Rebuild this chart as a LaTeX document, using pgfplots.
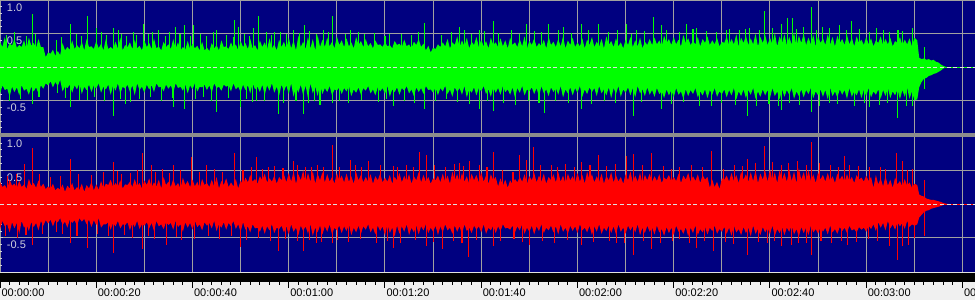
\documentclass[border=0pt]{standalone}
\usepackage{fontspec}
\setmainfont{Liberation Sans}
\usepackage{pgfplots}
\usepackage{pgfplotstable}
\pgfplotsset{compat=1.18}
\definecolor{navy}{HTML}{000080}
\definecolor{wgreen}{HTML}{00FF00}
\definecolor{wred}{HTML}{FF0000}
\definecolor{gridg}{HTML}{A0A0A0}
\definecolor{sepg}{HTML}{8C8C8C}
\definecolor{rulerbg}{HTML}{F0F0F0}
\definecolor{lab}{HTML}{D0D0DC}
\definecolor{zerol}{HTML}{E0E0E0}
\newcommand\lf{\fontsize{8.25pt}{9pt}\selectfont}

\pgfplotstableread{
t gu gl ru rl
0 0.38 -0.40 0.33 -0.38
0.5 .30 -.27 .25 -.25
1 0.45 -0.34 0.28 -0.33
1.5 .27 -.32 .22 -.30
2 0.36 -0.44 0.36 -0.42
2.5 .32 -.29 .27 -.27
3 0.42 -0.37 0.30 -0.36
3.5 .29 -.30 .24 -.28
4 0.33 -0.42 0.34 -0.44
4.5 .30 -.27 .25 -.25
5 0.40 -0.35 0.29 -0.35
5.5 .27 -.32 .22 -.30
6 0.44 -0.41 0.37 -0.40
6.5 .32 -.29 .27 -.27
7 0.36 -0.36 0.31 -0.34
7.5 .29 -.30 .24 -.28
8 0.42 -0.39 0.35 -0.39
8.5 .30 -.27 .25 -.25
9 0.30 -0.32 0.30 -0.32
9.5 .15 -.24 .22 -.24
10 0.22 -0.27 0.26 -0.29
10.5 .20 -.21 .23 -.23
11 0.26 -0.30 0.30 -0.33
11.5 .17 -.22 .20 -.24
12 0.24 -0.28 0.24 -0.27
12.5 .18 -.19 .21 -.21
13 0.36 -0.36 0.29 -0.31
13.5 .25 -.29 .18 -.26
14 0.30 -0.31 0.27 -0.35
14.5 .26 -.26 .23 -.23
15 0.40 -0.38 0.31 -0.28
15.5 .27 -.27 .20 -.24
16 0.33 -0.33 0.25 -0.32
16.5 .28 -.24 .21 -.21
17 0.38 -0.40 0.30 -0.26
17.5 .25 -.29 .18 -.22
18 0.42 -0.34 0.28 -0.30
18.5 .30 -.26 .23 -.23
19 0.31 -0.37 0.33 -0.34
19.5 .27 -.27 .20 -.24
20 0.39 -0.32 0.29 -0.31
20.5 .28 -.24 .21 -.21
21 0.35 -0.38 0.34 -0.35
21.5 .25 -.29 .23 -.30
22 0.42 -0.33 0.30 -0.30
22.5 .27 -.26 .28 -.27
23 0.30 -0.41 0.36 -0.38
23.5 .27 -.27 .25 -.28
24 0.38 -0.35 0.31 -0.33
24.5 .28 -.24 .26 -.25
25 0.44 -0.39 0.35 -0.36
25.5 .25 -.29 .23 -.30
26 0.33 -0.32 0.29 -0.31
26.5 .30 -.26 .28 -.27
27 0.37 -0.37 0.33 -0.39
27.5 .27 -.27 .25 -.28
28 0.41 -0.42 0.37 -0.34
28.5 .28 -.24 .26 -.25
29 0.32 -0.34 0.31 -0.37
29.5 .25 -.29 .23 -.30
30 0.40 -0.38 0.35 -0.32
30.5 .30 -.26 .28 -.27
31 0.36 -0.33 0.38 -0.36
31.5 .27 -.27 .25 -.28
32 0.43 -0.37 0.32 -0.40
32.5 .28 -.24 .26 -.25
33 0.31 -0.30 0.36 -0.33
33.5 .25 -.29 .23 -.30
34 0.38 -0.36 0.40 -0.37
34.5 .30 -.26 .28 -.27
35 0.34 -0.32 0.33 -0.31
35.5 .27 -.27 .25 -.28
36 0.42 -0.38 0.37 -0.38
36.5 .28 -.24 .26 -.25
37 0.37 -0.31 0.31 -0.34
37.5 .25 -.29 .23 -.30
38 0.30 -0.35 0.39 -0.41
38.5 .26 -.26 .28 -.27
39 0.39 -0.39 0.34 -0.35
39.5 .27 -.27 .25 -.28
40 0.35 -0.33 0.36 -0.38
40.5 .28 -.24 .26 -.25
41 0.32 -0.36 0.33 -0.34
41.5 .25 -.29 .23 -.30
42 0.38 -0.30 0.37 -0.39
42.5 .25 -.26 .28 -.27
43 0.29 -0.34 0.31 -0.32
43.5 .24 -.27 .25 -.28
44 0.36 -0.38 0.36 -0.36
44.5 .28 -.24 .26 -.25
45 0.33 -0.31 0.40 -0.40
45.5 .25 -.29 .23 -.30
46 0.40 -0.35 0.34 -0.35
46.5 .30 -.26 .28 -.27
47 0.31 -0.29 0.38 -0.38
47.5 .27 -.27 .25 -.28
48 0.37 -0.36 0.32 -0.33
48.5 .28 -.24 .26 -.25
49 0.34 -0.33 0.37 -0.37
49.5 .25 -.29 .23 -.30
50 0.39 -0.37 0.35 -0.41
50.5 .30 -.26 .28 -.27
51 0.36 -0.34 0.39 -0.38
51.5 .27 -.27 .32 -.33
52 0.42 -0.39 0.43 -0.42
52.5 .28 -.24 .33 -.30
53 0.33 -0.33 0.37 -0.36
53.5 .25 -.29 .30 -.35
54 0.40 -0.37 0.41 -0.41
54.5 .30 -.26 .35 -.32
55 0.37 -0.41 0.45 -0.44
55.5 .27 -.27 .32 -.33
56 0.43 -0.35 0.38 -0.39
56.5 .28 -.24 .33 -.30
57 0.34 -0.38 0.42 -0.43
57.5 .25 -.29 .30 -.35
58 0.41 -0.42 0.40 -0.37
58.5 .30 -.26 .35 -.32
59 0.38 -0.36 0.44 -0.42
59.5 .27 -.27 .32 -.33
60 0.44 -0.40 0.46 -0.45
60.5 .28 -.24 .33 -.30
61 0.40 -0.44 0.48 -0.41
61.5 .25 -.29 .30 -.35
62 0.47 -0.38 0.44 -0.46
62.5 .30 -.26 .35 -.32
63 0.38 -0.42 0.50 -0.40
63.5 .27 -.27 .32 -.33
64 0.45 -0.46 0.46 -0.44
64.5 .28 -.24 .33 -.30
65 0.42 -0.39 0.49 -0.47
65.5 .25 -.29 .30 -.35
66 0.48 -0.43 0.45 -0.42
66.5 .30 -.26 .35 -.32
67 0.41 -0.40 0.47 -0.45
67.5 .30 -.31 .32 -.33
68 0.44 -0.37 0.44 -0.41
68.5 .31 -.28 .33 -.30
69 0.38 -0.42 0.40 -0.45
69.5 .28 -.33 .30 -.35
70 0.46 -0.35 0.46 -0.39
70.5 .33 -.30 .35 -.32
71 0.40 -0.40 0.42 -0.43
71.5 .30 -.31 .32 -.33
72 0.43 -0.36 0.45 -0.40
72.5 .31 -.28 .33 -.30
73 0.37 -0.43 0.41 -0.46
73.5 .28 -.33 .30 -.35
74 0.45 -0.38 0.47 -0.42
74.5 .33 -.30 .35 -.32
75 0.39 -0.41 0.43 -0.44
75.5 .30 -.31 .32 -.33
76 0.42 -0.35 0.40 -0.38
76.5 .31 -.28 .33 -.30
77 0.36 -0.39 0.44 -0.42
77.5 .28 -.33 .30 -.35
78 0.40 -0.42 0.41 -0.45
78.5 .33 -.30 .35 -.32
79 0.34 -0.36 0.45 -0.40
79.5 .30 -.31 .32 -.33
80 0.38 -0.40 0.39 -0.47
80.5 .31 -.28 .33 -.30
81 0.33 -0.44 0.43 -0.43
81.5 .28 -.33 .30 -.35
82 0.39 -0.37 0.40 -0.48
82.5 .33 -.30 .35 -.32
83 0.35 -0.41 0.46 -0.44
83.5 .30 -.31 .32 -.33
84 0.41 -0.35 0.42 -0.41
84.5 .31 -.28 .33 -.30
85 0.34 -0.39 0.44 -0.46
85.5 .28 -.33 .30 -.35
86 0.38 -0.43 0.41 -0.42
86.5 .33 -.30 .35 -.32
87 0.42 -0.37 0.47 -0.45
87.5 .30 -.31 .32 -.33
88 0.35 -0.40 0.43 -0.39
88.5 .25 -.28 .33 -.30
89 0.32 -0.34 0.40 -0.43
89.5 .22 -.33 .30 -.35
90 0.29 -0.38 0.38 -0.41
90.5 .27 -.30 .35 -.32
91 0.34 -0.42 0.42 -0.46
91.5 .30 -.31 .32 -.33
92 0.37 -0.36 0.45 -0.42
92.5 .31 -.28 .33 -.30
93 0.42 -0.40 0.42 -0.39
93.5 .28 -.33 .30 -.35
94 0.37 -0.44 0.48 -0.44
94.5 .33 -.30 .35 -.32
95 0.46 -0.37 0.44 -0.41
95.5 .30 -.31 .32 -.33
96 0.40 -0.41 0.46 -0.45
96.5 .31 -.28 .33 -.30
97 0.44 -0.45 0.41 -0.40
97.5 .28 -.33 .30 -.35
98 0.38 -0.38 0.45 -0.43
98.5 .33 -.30 .35 -.32
99 0.45 -0.42 0.43 -0.38
99.5 .30 -.31 .32 -.33
100 0.41 -0.36 0.47 -0.42
100.5 .31 -.28 .33 -.30
101 0.39 -0.40 0.42 -0.44
101.5 .28 -.33 .30 -.35
102 0.44 -0.44 0.44 -0.39
102.5 .33 -.30 .35 -.32
103 0.37 -0.38 0.40 -0.43
103.5 .30 -.31 .26 -.33
104 0.43 -0.41 0.38 -0.40
104.5 .31 -.28 .27 -.30
105 0.40 -0.37 0.36 -0.36
105.5 .28 -.33 .24 -.35
106 0.44 -0.41 0.35 -0.38
106.5 .33 -.30 .29 -.32
107 0.37 -0.45 0.37 -0.42
107.5 .30 -.31 .32 -.33
108 0.42 -0.38 0.40 -0.39
108.5 .31 -.28 .33 -.30
109 0.46 -0.42 0.44 -0.44
109.5 .28 -.33 .30 -.35
110 0.39 -0.36 0.41 -0.41
110.5 .33 -.30 .35 -.32
111 0.43 -0.40 0.46 -0.45
111.5 .30 -.31 .32 -.33
112 0.36 -0.44 0.42 -0.40
112.5 .31 -.28 .33 -.30
113 0.41 -0.39 0.45 -0.43
113.5 .28 -.33 .30 -.35
114 0.45 -0.43 0.40 -0.39
114.5 .33 -.30 .35 -.32
115 0.38 -0.37 0.44 -0.42
115.5 .30 -.31 .32 -.33
116 0.42 -0.41 0.47 -0.45
116.5 .31 -.28 .33 -.30
117 0.46 -0.45 0.42 -0.41
117.5 .28 -.33 .30 -.35
118 0.40 -0.39 0.45 -0.44
118.5 .33 -.30 .35 -.32
119 0.44 -0.42 0.41 -0.40
119.5 .30 -.31 .32 -.33
120 0.37 -0.38 0.46 -0.43
120.5 .31 -.28 .33 -.30
121 0.43 -0.44 0.43 -0.39
121.5 .28 -.33 .30 -.35
122 0.41 -0.40 0.48 -0.42
122.5 .33 -.30 .35 -.32
123 0.45 -0.37 0.44 -0.46
123.5 .30 -.31 .32 -.33
124 0.38 -0.43 0.41 -0.41
124.5 .31 -.28 .33 -.30
125 0.42 -0.39 0.45 -0.44
125.5 .28 -.33 .30 -.35
126 0.46 -0.42 0.42 -0.40
126.5 .33 -.30 .35 -.32
127 0.39 -0.46 0.47 -0.43
127.5 .30 -.31 .32 -.33
128 0.43 -0.40 0.43 -0.45
128.5 .31 -.28 .33 -.30
129 0.37 -0.44 0.40 -0.41
129.5 .28 -.33 .30 -.35
130 0.41 -0.38 0.44 -0.44
130.5 .33 -.30 .35 -.32
131 0.45 -0.42 0.48 -0.39
131.5 .30 -.31 .32 -.33
132 0.40 -0.45 0.42 -0.42
132.5 .31 -.28 .33 -.30
133 0.44 -0.39 0.46 -0.46
133.5 .28 -.33 .30 -.35
134 0.38 -0.43 0.43 -0.43
134.5 .33 -.30 .35 -.32
135 0.42 -0.41 0.45 -0.41
135.5 .33 -.34 .33 -.35
136 0.44 -0.44 0.41 -0.45
136.5 .34 -.31 .34 -.32
137 0.40 -0.40 0.44 -0.42
137.5 .31 -.36 .31 -.37
138 0.47 -0.46 0.39 -0.47
138.5 .36 -.33 .36 -.34
139 0.42 -0.42 0.43 -0.43
139.5 .33 -.34 .33 -.35
140 0.45 -0.45 0.40 -0.46
140.5 .34 -.31 .34 -.32
141 0.41 -0.41 0.45 -0.41
141.5 .31 -.36 .31 -.37
142 0.48 -0.47 0.42 -0.44
142.5 .36 -.33 .36 -.34
143 0.43 -0.43 0.46 -0.48
143.5 .33 -.34 .33 -.35
144 0.39 -0.40 0.41 -0.43
144.5 .34 -.31 .34 -.32
145 0.45 -0.45 0.44 -0.46
145.5 .31 -.36 .31 -.37
146 0.42 -0.42 0.43 -0.42
146.5 .36 -.33 .36 -.34
147 0.46 -0.46 0.40 -0.45
147.5 .33 -.34 .24 -.35
148 0.40 -0.41 0.36 -0.40
148.5 .34 -.31 .25 -.32
149 0.44 -0.44 0.33 -0.44
149.5 .31 -.36 .22 -.37
150 0.38 -0.40 0.38 -0.41
150.5 .36 -.33 .36 -.34
151 0.46 -0.45 0.42 -0.44
151.5 .33 -.34 .33 -.35
152 0.42 -0.42 0.46 -0.47
152.5 .34 -.31 .34 -.32
153 0.49 -0.48 0.43 -0.42
153.5 .31 -.36 .31 -.37
154 0.44 -0.43 0.48 -0.46
154.5 .36 -.33 .36 -.34
155 0.47 -0.46 0.44 -0.43
155.5 .33 -.34 .33 -.35
156 0.43 -0.41 0.47 -0.48
156.5 .34 -.31 .34 -.32
157 0.50 -0.47 0.50 -0.44
157.5 .31 -.36 .31 -.37
158 0.45 -0.44 0.45 -0.46
158.5 .36 -.33 .36 -.34
159 0.48 -0.42 0.49 -0.42
159.5 .33 -.34 .33 -.35
160 0.44 -0.46 0.52 -0.45
160.5 .34 -.31 .34 -.32
161 0.51 -0.43 0.47 -0.47
161.5 .31 -.36 .31 -.37
162 0.46 -0.48 0.50 -0.43
162.5 .36 -.33 .36 -.34
163 0.49 -0.44 0.46 -0.46
163.5 .33 -.34 .33 -.35
164 0.45 -0.41 0.51 -0.41
164.5 .34 -.31 .34 -.32
165 0.52 -0.47 0.48 -0.45
165.5 .31 -.36 .31 -.37
166 0.47 -0.43 0.53 -0.48
166.5 .36 -.33 .36 -.34
167 0.50 -0.45 0.47 -0.43
167.5 .33 -.34 .33 -.35
168 0.44 -0.40 0.50 -0.46
168.5 .34 -.31 .34 -.32
169 0.48 -0.46 0.44 -0.42
169.5 .31 -.36 .31 -.37
170 0.46 -0.42 0.47 -0.44
170.5 .36 -.33 .36 -.34
171 0.43 -0.44 0.43 -0.41
171.5 .33 -.34 .33 -.35
172 0.49 -0.48 0.46 -0.45
172.5 .34 -.31 .34 -.32
173 0.45 -0.43 0.41 -0.42
173.5 .31 -.36 .31 -.37
174 0.47 -0.45 0.45 -0.44
174.5 .36 -.33 .36 -.34
175 0.42 -0.41 0.42 -0.40
175.5 .33 -.34 .33 -.35
176 0.48 -0.47 0.44 -0.43
176.5 .34 -.31 .34 -.32
177 0.44 -0.44 0.40 -0.39
177.5 .31 -.36 .31 -.37
178 0.46 -0.42 0.43 -0.42
178.5 .36 -.33 .36 -.34
179 0.41 -0.46 0.39 -0.38
179.5 .33 -.34 .33 -.35
180 0.45 -0.43 0.42 -0.41
180.5 .34 -.31 .34 -.32
181 0.43 -0.45 0.40 -0.37
181.5 .31 -.36 .24 -.30
182 0.40 -0.41 0.43 -0.40
182.5 .36 -.33 .29 -.27
183 0.46 -0.47 0.38 -0.35
183.5 .33 -.34 .26 -.28
184 0.42 -0.43 0.41 -0.39
184.5 .34 -.31 .27 -.25
185 0.44 -0.46 0.36 -0.36
185.5 .31 -.36 .24 -.30
186 0.39 -0.42 0.39 -0.38
186.5 .36 -.33 .29 -.27
187 0.45 -0.48 0.34 -0.33
187.5 .33 -.34 .26 -.28
188 0.41 -0.44 0.37 -0.37
188.5 .34 -.31 .27 -.25
189 0.43 -0.47 0.32 -0.34
189.5 .31 -.36 .24 -.30
190 0.44 -0.49 0.30 -0.32
190.6 0.40 -0.48 0.28 -0.30
191 0.14 -0.30 0.14 -0.20
191.5 0.12 -0.22 0.12 -0.16
192 0.13 -0.17 0.11 -0.12
192.5 0.11 -0.16 0.08 -0.10
193 0.12 -0.13 0.07 -0.09
193.5 0.10 -0.12 0.06 -0.07
194 0.11 -0.10 0.06 -0.06
194.5 0.08 -0.09 0.05 -0.05
195 0.07 -0.07 0.04 -0.04
195.5 0.04 -0.05 0.03 -0.03
196 0.02 -0.02 0.015 -0.015
196.5 0.005 -0.005 0.005 -0.005
197 0 0 0 0
}\wave

\pgfplotsset{
  panel/.style={
    scale only axis, width=731.25pt,
    xmin=0, xmax=202.6, ymin=-1, ymax=1,
    axis background/.style={fill=navy},
    axis line style={draw=none},
    xtick={0,10,...,200}, xticklabel=\empty, xmajorgrids,
    x tick style={draw=none},
    ytick={-0.5,0.5}, yticklabels={-0.5,0.5}, ymajorgrids,
    extra y ticks={0,1}, extra y tick labels={0.0,1.0},
    extra y tick style={grid=none},
    minor ytick={-0.9,-0.8,-0.7,-0.6,-0.4,-0.3,-0.2,-0.1,0.1,0.2,0.3,0.4,0.6,0.7,0.8,0.9},
    ytick pos=left, tick align=inside,
    major tick length=2pt, minor tick length=1.5pt,
    y tick style={draw=lab, line width=0.6pt},
    grid style={gridg, line width=0.75pt},
    yticklabel style={font=\lf, text=lab, anchor=north west, inner sep=0pt, xshift=5pt, yshift=-2.4pt},
  },
  spike/.style={ycomb, line width=0.8pt, mark=none},
}

\begin{document}
\begin{tikzpicture}
\useasboundingbox (0,0) rectangle (731.25pt,225pt);
\fill[rulerbg] (0,0) rectangle (731.25pt,225pt);

% ---------- top channel (green) ----------
\begin{axis}[panel, at={(0pt,124.2pt)}, anchor=south west, height=100.8pt]
\addplot[fill=wgreen, draw=none] table[x=t, y=gu] {\wave} \closedcycle;
\addplot[fill=wgreen, draw=none] table[x=t, y=gl] {\wave} \closedcycle;
% medium peaks
\addplot[spike, wgreen] coordinates {
(1.4,0.48)(3.1,0.52)(5.5,0.47)(7.3,0.50)(11.8,0.40)(12.8,0.45)(15.9,0.50)(17.0,0.47)(21.1,0.52)(22.2,0.48)(25.3,0.50)(26.3,0.46)(27.7,0.53)(28.4,0.48)(30.8,0.50)(34.3,0.47)(35.3,0.52)(37.4,0.49)(39.5,0.46)(41.6,0.50)(42.9,0.47)(44.3,0.52)(47.1,0.48)(48.5,0.45)(50.9,0.50)(51.9,0.47)(55.4,0.52)(56.4,0.48)(58.2,0.53)(59.6,0.49)(60.9,0.55)(62.3,0.51)(64.4,0.54)(65.8,0.50)
(68.2,0.52)(71.7,0.50)(74.4,0.53)(75.8,0.49)(77.9,0.51)(80.0,0.47)(83.4,0.50)(85.5,0.48)(86.9,0.52)(91.7,0.48)(93.8,0.53)(96.6,0.55)(98.0,0.50)(100.7,0.54)(103.5,0.51)(106.3,0.55)(108.0,0.50)(111.1,0.54)(112.5,0.52)(116.0,0.55)(118.7,0.51)(122.2,0.56)(126.4,0.52)(128.4,0.55)(131.2,0.50)(134.0,0.54)
(138.5,0.56)(141.2,0.53)(144.0,0.57)(146.8,0.54)(148.9,0.52)(151.6,0.57)(153.7,0.55)(155.8,0.58)(157.9,0.56)(160.6,0.59)(165.5,0.57)(166.9,0.60)(169.6,0.56)(172.4,0.58)(175.9,0.55)(178.6,0.57)(180.7,0.53)(183.5,0.55)(184.9,0.52)(187.6,0.54)};
\addplot[spike, wgreen] coordinates {
(2.0,-0.50)(4.2,-0.47)(8.1,-0.45)(12.0,-0.38)(13.6,-0.46)(16.5,-0.49)(19.6,-0.45)(21.8,-0.50)(25.0,-0.47)(27.1,-0.52)(29.0,-0.48)(31.2,-0.45)(33.6,-0.50)(35.8,-0.46)(40.6,-0.48)(42.3,-0.45)(44.0,-0.50)(47.5,-0.46)(51.2,-0.48)(52.4,-0.52)(55.0,-0.50)(59.0,-0.53)(61.5,-0.51)(64.2,-0.54)(65.4,-0.50)
(70.6,-0.50)(72.5,-0.53)(75.1,-0.49)(78.6,-0.52)(80.4,-0.48)(84.0,-0.51)(86.2,-0.54)(90.5,-0.50)(92.8,-0.47)(95.0,-0.52)(97.6,-0.55)(101.3,-0.50)(104.6,-0.53)(107.2,-0.56)(109.9,-0.51)(112.0,-0.54)(115.4,-0.50)(118.1,-0.53)(123.0,-0.55)(125.6,-0.51)(127.8,-0.54)(133.3,-0.52)
(139.6,-0.55)(142.0,-0.52)(145.4,-0.57)(150.0,-0.54)(152.8,-0.56)(157.2,-0.58)(159.8,-0.55)(161.7,-0.57)(164.0,-0.54)(166.2,-0.56)(170.3,-0.58)(174.0,-0.55)(177.5,-0.57)(179.6,-0.53)(182.8,-0.56)(184.4,-0.54)(188.3,-0.58)};
% tall peaks
\addplot[spike, wgreen] coordinates {
(6.7,0.79)(14.7,0.65)(18.2,0.76)(20.0,0.58)(23.5,0.58)(24.6,0.55)(29.8,0.64)(31.6,0.53)(32.9,0.55)(36.4,0.60)(38.4,0.63)(40.2,0.63)(45.0,0.55)(48.8,0.70)(49.6,0.60)(52.6,0.58)(53.7,0.76)(57.0,0.52)(63.2,0.63)(67.2,0.55)
(69.0,0.76)(72.9,0.56)(81.0,0.50)(88.3,0.66)(95.4,0.60)(99.7,0.55)(102.5,0.69)(109.5,0.65)(113.9,0.65)(117.0,0.60)(120.8,0.64)(124.3,0.64)(130.2,0.64)(132.2,0.55)
(135.7,0.75)(137.4,0.63)(142.6,0.65)(144.7,0.58)(151.0,0.55)(155.0,0.57)(158.9,0.84)(162.4,0.65)(163.7,0.73)(164.6,0.73)(168.7,0.89)(171.0,0.60)(174.5,0.63)(176.9,0.69)(182.1,0.58)(186.6,0.55)(189.7,0.58)(192.2,0.30)};
\addplot[spike, wgreen] coordinates {
(6.7,-0.55)(14.7,-0.59)(18.2,-0.49)(23.5,-0.72)(26.0,-0.55)(36.0,-0.59)(38.4,-0.62)(45.0,-0.67)(49.9,-0.59)(53.3,-0.50)(57.8,-0.69)(63.0,-0.69)(66.5,-0.56)
(69.0,-0.54)(81.7,-0.58)(88.3,-0.62)(99.6,-0.62)(102.5,-0.65)(113.2,-0.68)(120.8,-0.62)(131.6,-0.72)
(137.4,-0.62)(147.8,-0.57)(155.4,-0.72)(162.4,-0.64)(168.7,-0.67)(172.4,-0.54)(180.7,-0.59)(186.4,-0.75)(189.7,-0.57)(192.2,-0.32)};
\addplot[wgreen, line width=0.75pt] coordinates {(196,0)(202.6,0)};
\addplot[zerol, line width=0.75pt, dash pattern=on 3pt off 2pt] coordinates {(0,0)(202.6,0)};
\end{axis}

% ---------- bottom channel (red) ----------
\begin{axis}[panel, at={(0pt,21.225pt)}, anchor=south west, height=101.55pt]
\addplot[fill=wred, draw=none] table[x=t, y=ru] {\wave} \closedcycle;
\addplot[fill=wred, draw=none] table[x=t, y=rl] {\wave} \closedcycle;
% medium peaks
\addplot[spike, wred] coordinates {
(1.6,0.42)(3.4,0.45)(8.2,0.44)(10.5,0.40)(12.6,0.42)(16.3,0.45)(19.0,0.43)(21.5,0.47)(24.4,0.49)(27.2,0.46)(28.6,0.50)(32.4,0.48)(33.8,0.51)(35.2,0.46)(37.5,0.50)(41.4,0.47)(44.5,0.52)(46.2,0.48)(50.5,0.50)(52.2,0.54)(54.6,0.52)(57.0,0.56)(58.8,0.53)(61.8,0.57)(64.7,0.55)(66.0,0.58)
(70.5,0.55)(73.8,0.58)(75.2,0.54)(79.0,0.57)(82.6,0.55)(84.4,0.58)(86.0,0.54)(90.2,0.57)(92.5,0.55)(94.4,0.59)(96.4,0.56)(99.6,0.58)(101.2,0.54)(104.5,0.50)(106.6,0.47)(112.4,0.57)(115.8,0.55)(117.6,0.59)(119.4,0.54)(122.6,0.58)(126.0,0.56)(127.9,0.59)(133.5,0.57)
(137.8,0.56)(139.6,0.52)(143.6,0.58)(146.0,0.55)(150.4,0.52)(152.6,0.58)(154.2,0.56)(156.9,0.60)(160.6,0.62)(163.8,0.60)(165.8,0.63)(170.2,0.60)(172.6,0.57)(174.2,0.55)(178.4,0.56)(180.6,0.54)(182.9,0.55)(184.0,0.52)(188.6,0.50)};
\addplot[spike, wred] coordinates {
(1.2,-0.47)(3.6,-0.50)(5.4,-0.46)(8.8,-0.44)(11.7,-0.42)(13.0,-0.45)(16.0,-0.47)(20.3,-0.44)(22.6,-0.48)(25.8,-0.46)(27.5,-0.50)(30.8,-0.47)(32.2,-0.51)(36.6,-0.49)(40.5,-0.52)(43.3,-0.47)(45.7,-0.51)(48.2,-0.48)(51.3,-0.53)(53.8,-0.50)(56.2,-0.54)(59.4,-0.52)(61.9,-0.55)(64.3,-0.53)(66.8,-0.56)
(70.2,-0.53)(72.4,-0.56)(75.0,-0.52)(78.2,-0.57)(80.6,-0.55)(83.2,-0.58)(86.4,-0.53)(90.0,-0.56)(94.2,-0.54)(96.0,-0.57)(99.0,-0.53)(104.0,-0.55)(106.8,-0.52)(108.6,-0.56)(112.8,-0.54)(115.2,-0.57)(118.0,-0.53)(123.4,-0.56)(126.6,-0.54)(128.2,-0.58)(133.8,-0.55)
(137.2,-0.57)(139.8,-0.54)(143.2,-0.58)(146.4,-0.55)(150.8,-0.56)(152.4,-0.59)(157.6,-0.56)(159.4,-0.58)(161.0,-0.55)(166.0,-0.57)(170.6,-0.55)(172.8,-0.58)(174.8,-0.54)(178.0,-0.56)(180.4,-0.52)(182.4,-0.55)(190.0,-0.50)};
% tall peaks
\addplot[spike, wred] coordinates {
(5.0,0.59)(6.7,0.82)(14.7,0.66)(23.5,0.62)(25.3,0.44)(29.6,0.76)(31.5,0.58)(36.0,0.58)(39.8,0.69)(42.9,0.58)(48.8,0.76)(53.3,0.70)(55.7,0.55)(60.9,0.64)(63.4,0.55)(67.2,0.55)
(69.0,0.87)(72.9,0.65)(76.5,0.63)(81.7,0.56)(87.2,0.77)(88.6,0.73)(95.5,0.61)(97.5,0.63)(102.5,0.77)(107.9,0.73)(109.4,0.65)(110.8,0.84)(114.6,0.58)(120.8,0.62)(124.3,0.73)(130.2,0.71)(131.6,0.74)
(135.3,0.76)(141.2,0.54)(147.8,0.79)(155.4,0.66)(158.9,0.85)(162.4,0.58)(167.5,0.58)(168.7,0.92)(175.5,0.71)(176.5,0.58)(186.2,0.75)(187.6,0.63)(189.7,0.51)(192.2,0.36)};
\addplot[spike, wred] coordinates {
(6.7,-0.60)(14.7,-0.58)(18.2,-0.65)(23.5,-0.73)(29.6,-0.67)(34.6,-0.60)(37.7,-0.53)(49.9,-0.63)(57.8,-0.70)(63.0,-0.70)(65.8,-0.57)
(69.0,-0.57)(81.7,-0.65)(88.6,-0.62)(91.9,-0.67)(97.3,-0.78)(102.5,-0.62)(110.1,-0.60)(120.8,-0.60)(129.8,-0.57)(131.6,-0.76)
(135.3,-0.66)(141.2,-0.52)(144.7,-0.65)(148.2,-0.70)(155.4,-0.76)(162.4,-0.62)(164.4,-0.60)(167.5,-0.57)(168.7,-0.76)(176.2,-0.60)(184.9,-0.62)(186.4,-0.83)(187.6,-0.62)(188.7,-0.60)(192.2,-0.47)};
\addplot[wred, line width=0.75pt] coordinates {(196,0)(202.6,0)};
\addplot[zerol, line width=0.75pt, dash pattern=on 3pt off 2pt] coordinates {(0,0)(202.6,0)};
\end{axis}

% separators
\fill[gridg] (0,224.25pt) rectangle (731.25pt,225pt);
\fill[sepg] (0,121.875pt) rectangle (731.25pt,124.875pt);
\fill[zerol] (0,20pt) rectangle (731.25pt,21.225pt);

% ---------- time ruler ----------
\begin{axis}[at={(0pt,13.725pt)}, anchor=south west, scale only axis,
  width=731.25pt, height=6.275pt,
  xmin=0, xmax=202.6, ymin=0, ymax=1,
  axis background/.style={fill=black},
  axis line style={draw=none},
  ytick=\empty,
  xtick={0,20,...,200}, minor x tick num=9,
  xtick pos=bottom, tick align=outside,
  major tick length=4.5pt, minor tick length=2.25pt,
  tick style={black, line width=0.75pt},
  xticklabels={00:00:00,00:00:20,00:00:40,00:01:00,00:01:20,00:01:40,00:02:00,00:02:20,00:02:40,00:03:00,00:03:20},
  xticklabel style={font=\lf, text=black, anchor=north west, inner sep=0pt, xshift=1pt, yshift=-1pt},
]
\addplot[draw=none] coordinates {(0,0)(202.6,1)};
\end{axis}
\end{tikzpicture}
\end{document}
